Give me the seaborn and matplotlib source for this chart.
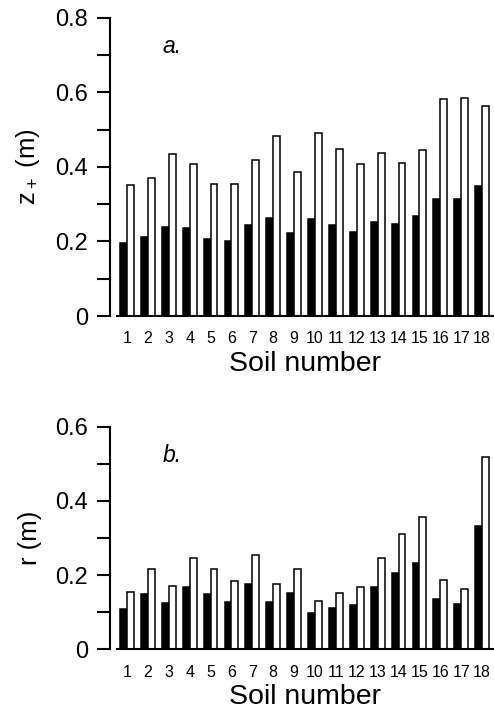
import pandas as pd
import numpy as np
import seaborn as sns
import matplotlib
matplotlib.use('Agg')
import matplotlib.pyplot as plt
from matplotlib.ticker import MultipleLocator, FuncFormatter

# soil numbers
soils = [str(i) for i in range(1, 19)]

# panel a: z+ (m), black = first series, white = second series
z_black = [0.195, 0.213, 0.238, 0.235, 0.206, 0.202, 0.244, 0.264, 0.224,
           0.260, 0.244, 0.226, 0.251, 0.246, 0.269, 0.313, 0.313, 0.350]
z_white = [0.352, 0.370, 0.435, 0.408, 0.354, 0.354, 0.420, 0.483, 0.387,
           0.490, 0.449, 0.408, 0.438, 0.410, 0.446, 0.583, 0.586, 0.565]

# panel b: r (m)
r_black = [0.110, 0.149, 0.124, 0.168, 0.149, 0.128, 0.175, 0.128, 0.151,
           0.098, 0.112, 0.120, 0.169, 0.205, 0.233, 0.137, 0.121, 0.332]
r_white = [0.155, 0.216, 0.170, 0.246, 0.216, 0.184, 0.255, 0.176, 0.216,
           0.129, 0.152, 0.167, 0.245, 0.310, 0.356, 0.186, 0.162, 0.518]

series = ['filled', 'open']


def long_df(black, white):
    df = pd.DataFrame({'soil': soils * 2,
                       'series': ['filled'] * 18 + ['open'] * 18,
                       'value': black + white})
    return df


sns.set_style("ticks")
plt.rcParams['font.family'] = ['Liberation Sans', 'DejaVu Sans']
plt.rcParams['mathtext.fontset'] = 'custom'
plt.rcParams['mathtext.rm'] = 'Liberation Sans'
plt.rcParams['mathtext.it'] = 'Liberation Sans:italic'
for key in ['text.color', 'axes.labelcolor', 'xtick.color', 'ytick.color', 'axes.edgecolor']:
    plt.rcParams[key] = 'black'

fig = plt.figure(figsize=(4.94, 7.13), dpi=100)
ax_a = fig.add_axes([0.2368, 0.5568, 0.7632, 0.418])
ax_b = fig.add_axes([0.2368, 0.0893, 0.7632, 0.3122])


def draw(ax, black, white, ymax, ylabel, tag, tag_y):
    sns.barplot(data=long_df(black, white), x='soil', y='value', hue='series',
                order=soils, hue_order=series, palette=['black', 'white'],
                edgecolor='black', linewidth=1.1, width=0.66, gap=0,
                errorbar=None, legend=False, ax=ax)
    ax.set_xlim(-0.48, 17.57)
    ax.set_ylim(0, ymax)
    ax.yaxis.set_major_locator(MultipleLocator(0.2))
    ax.yaxis.set_minor_locator(MultipleLocator(0.1))
    ax.yaxis.set_major_formatter(FuncFormatter(lambda v, p: '0' if abs(v) < 1e-9 else f'{v:.1f}'))
    ax.tick_params(axis='y', which='both', length=9.4, width=1.5, pad=6.5,
                   labelsize=17, direction='out', colors='black')
    ax.tick_params(axis='x', length=0, pad=11, labelsize=11.5, colors='black')
    for s in ['top', 'right']:
        ax.spines[s].set_visible(False)
    ax.spines['left'].set_position(('outward', 5))
    ax.spines['left'].set_linewidth(1.5)
    ax.spines['bottom'].set_linewidth(1.5)
    ax.set_xlabel('Soil number', fontsize=20.5, labelpad=3.5)
    ax.set_ylabel(ylabel, fontsize=18.5)
    ax.yaxis.set_label_coords(-0.199, 0.5)
    ax.text(0.122, tag_y, tag, transform=ax.transAxes, fontsize=16.5,
            style='italic', va='baseline', ha='left')


draw(ax_a, z_black, z_white, 0.8, r'$\mathregular{z_+}$ (m)', 'a.', 0.883)
draw(ax_b, r_black, r_white, 0.6, 'r (m)', 'b.', 0.843)

fig.savefig('out.png', dpi=100)
